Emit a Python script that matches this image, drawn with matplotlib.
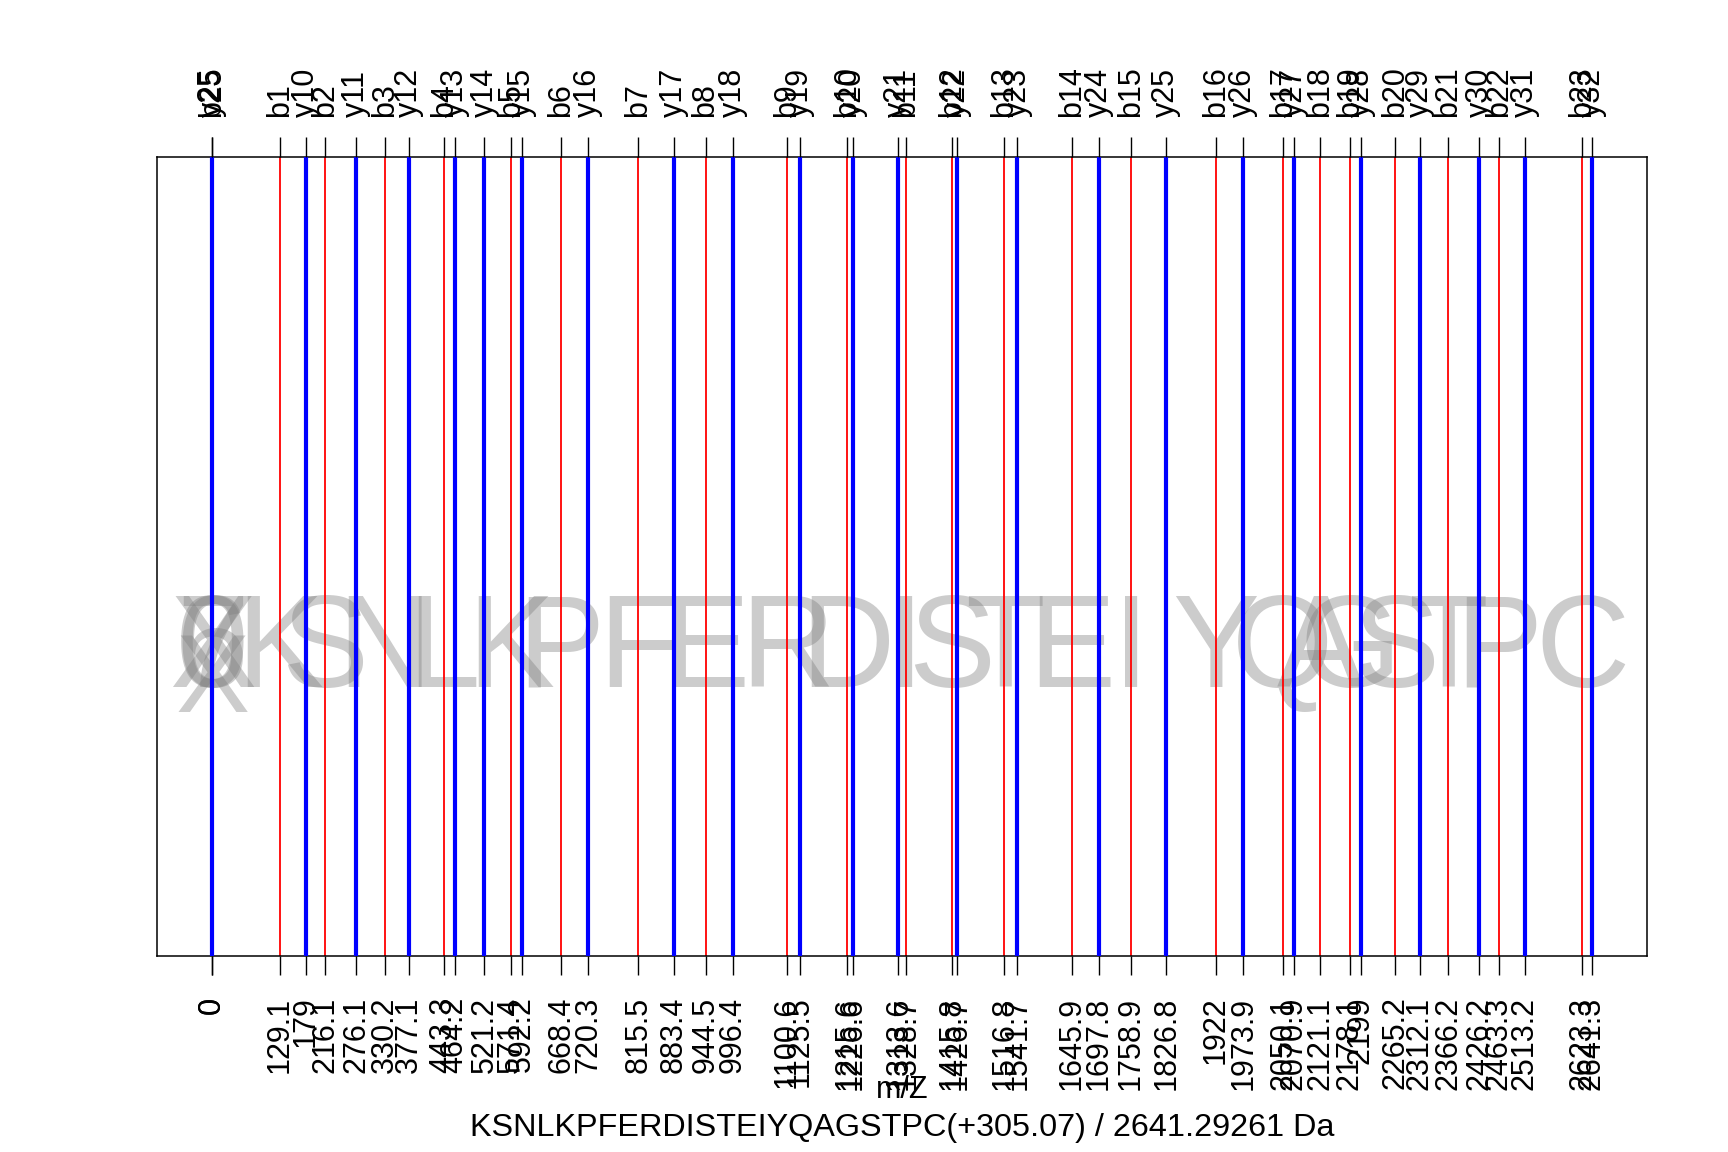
import matplotlib
matplotlib.use('Agg')
import matplotlib.pyplot as plt

plt.rcParams['font.family'] = ['Liberation Sans', 'DejaVu Sans']

# peptide and fragment ions
SEQUENCE = 'KSNLKPFERDISTEIYQAGSTPC'
SUBTITLE = 'KSNLKPFERDISTEIYQAGSTPC(+305.07) / 2641.29261 Da'
PARENT_MZ = 2641.3

b_names = ['b%d' % i for i in range(1, 24)]
b_mz = [129.1, 216.1, 330.2, 443.3, 571.4, 668.4, 815.5, 944.5, 1100.6,
        1215.6, 1328.7, 1415.8, 1516.8, 1645.9, 1758.9, 1922.0, 2050.1,
        2121.1, 2178.1, 2265.2, 2366.2, 2463.3, 2623.3]

y_names = ['y%d' % i for i in range(10, 33)]
y_mz = [179.0, 276.1, 377.1, 464.2, 521.2, 592.2, 720.3, 883.4, 996.4,
        1125.5, 1226.6, 1313.6, 1426.7, 1541.7, 1697.8, 1826.8, 1973.9,
        2070.9, 2199.0, 2312.1, 2426.2, 2513.2, 2641.3]

# the two ions that end up at m/z 0
zero_names = ['b25', 'y25']
zero_mz = [0.0, 0.0]
zero_chars = ['0', '7', 'X', '6']

LABEL_SIZE = 22

fig = plt.figure(figsize=(17.28, 11.52), dpi=100)
W, H = 1728.0, 1152.0
ax = fig.add_axes([157 / W, 1 - 956 / H, (1647 - 157) / W, (956 - 157) / H])
ax.set_xlim(-0.04 * PARENT_MZ, 1.04 * PARENT_MZ)
ax.set_ylim(0, 1)

# big grey sequence letters, one at each b ion
grey = (0.5, 0.5, 0.5, 0.4)
for mz, aa in zip(b_mz, SEQUENCE):
    ax.text(mz, 0.337, aa, ha='center', va='baseline', fontsize=94,
            color=grey, zorder=1)
for ch in zero_chars:
    ax.text(0, 0.337, ch, ha='center', va='baseline', fontsize=94,
            color=grey, zorder=1)
ax.text(0, 0.305, 'X', ha='center', va='baseline', fontsize=80,
        color=grey, zorder=1)

# peaks
ax.vlines(b_mz, 0, 1, colors='red', linewidth=1.3, zorder=2)
ax.vlines(zero_mz[:1], 0, 1, colors='red', linewidth=1.3, zorder=2)
ax.vlines(zero_mz[1:] + y_mz, 0, 1, colors='blue', linewidth=3.0, zorder=3)

for s in ax.spines.values():
    s.set_linewidth(1.1)
    s.set_color('black')

# duplicate tick positions get merged, so nudge the second zero a hair
tick_pos = [zero_mz[0], zero_mz[1] + 0.01] + b_mz + y_mz

ax.set_yticks([])
bottom_lab = ['%g' % round(v, 1) for v in tick_pos]
ax.set_xticks(tick_pos, bottom_lab)
ax.tick_params(axis='x', direction='out', length=13.7, width=1.0,
               pad=15.5, labelsize=LABEL_SIZE, labelrotation=90)

top = ax.twiny()
top.set_xlim(ax.get_xlim())
top.set_xticks(tick_pos, zero_names + b_names + y_names)
top.tick_params(axis='x', direction='out', length=14.4, width=1.0,
                pad=14.4, labelsize=LABEL_SIZE, labelrotation=90)
for s in top.spines.values():
    s.set_visible(False)

fig.text(902 / W, 1 - 1090 / H, 'm/Z', ha='center', va='center',
         fontsize=LABEL_SIZE)
fig.text(902 / W, 1 - 1128 / H, SUBTITLE, ha='center', va='center',
         fontsize=23.3)

fig.savefig('out.png', dpi=100)
